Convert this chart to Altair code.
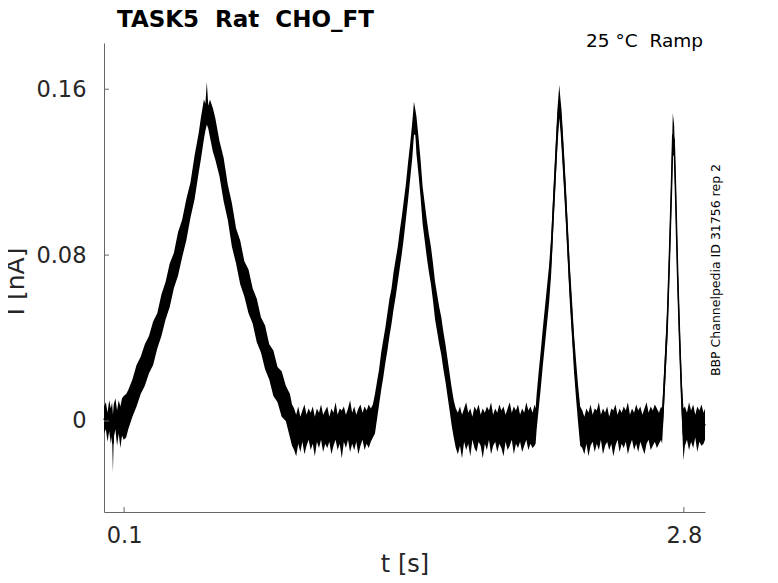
import altair as alt
import pandas as pd

# ---------------- data ----------------
x_ticks = [0.1, 2.8]
y_ticks = [0, 0.08, 0.16]

title_text = "TASK5\u00a0\u00a0Rat\u00a0\u00a0CHO_FT"
cond_text = "25 °C\u00a0\u00a0Ramp"
side_text = "BBP Channelpedia ID 31756 rep 2"

# baseline before first ramp
t_base_a = [0.003, 0.012, 0.020, 0.028, 0.036, 0.042, 0.046, 0.050, 0.058, 0.066,
            0.074, 0.082, 0.090, 0.098]
hi_base_a = [0.007, 0.009, 0.004, 0.010, 0.006, 0.009, 0.003, 0.008, 0.011, 0.005,
             0.010, 0.007, 0.011, 0.012]
lo_base_a = [-0.006, -0.004, -0.010, -0.005, -0.011, -0.007, -0.025, -0.008, -0.004, -0.012,
             -0.006, -0.013, -0.007, -0.009]

# ramp 1 (0.1 -> 0.5 -> 0.9 s)
t_r1_up = [0.11, 0.12, 0.14, 0.16, 0.18, 0.20, 0.22, 0.24, 0.26, 0.28,
           0.30, 0.32, 0.34, 0.36, 0.38, 0.40, 0.42, 0.44, 0.46, 0.47,
           0.485, 0.492, 0.499]
hi_r1_up = [0.013, 0.015, 0.020, 0.027, 0.031, 0.037, 0.041, 0.048, 0.052, 0.061,
            0.067, 0.076, 0.081, 0.091, 0.097, 0.107, 0.115, 0.128, 0.139, 0.146,
            0.155, 0.153, 0.1635]
lo_r1_up = [-0.008, -0.004, 0.002, 0.007, 0.013, 0.017, 0.023, 0.027, 0.035, 0.041,
            0.049, 0.055, 0.064, 0.070, 0.079, 0.087, 0.098, 0.107, 0.120, 0.126,
            0.136, 0.140, 0.143]
t_r1_dn = [0.506, 0.514, 0.528, 0.54, 0.56, 0.58, 0.60, 0.62, 0.64, 0.66,
           0.68, 0.70, 0.72, 0.74, 0.76, 0.78, 0.80, 0.82, 0.84, 0.86,
           0.88, 0.90, 0.91]
hi_r1_dn = [0.152, 0.155, 0.151, 0.146, 0.135, 0.127, 0.114, 0.105, 0.093, 0.087,
            0.077, 0.073, 0.064, 0.059, 0.050, 0.046, 0.037, 0.034, 0.026, 0.024,
            0.017, 0.013, 0.008]
lo_r1_dn = [0.141, 0.137, 0.130, 0.126, 0.118, 0.106, 0.097, 0.084, 0.076, 0.066,
            0.060, 0.052, 0.047, 0.038, 0.033, 0.025, 0.020, 0.012, 0.009, 0.002,
            0.000, -0.008, -0.012]

# baseline between ramp 1 and ramp 2
t_base_b = [0.92, 0.93, 0.94, 0.95, 0.96, 0.97, 0.98, 0.99, 1.00, 1.01,
            1.02, 1.03, 1.04, 1.05, 1.06, 1.07, 1.08, 1.09, 1.10, 1.11,
            1.12, 1.13, 1.14, 1.15, 1.16, 1.17, 1.18, 1.19, 1.20, 1.21,
            1.22, 1.23, 1.24, 1.25, 1.26, 1.27, 1.28, 1.29, 1.30]
hi_base_b = [0.006, 0.003, 0.007, 0.002, 0.005, 0.008, 0.003, 0.006, 0.004, 0.007,
             0.002, 0.006, 0.004, 0.008, 0.003, 0.005, 0.007, 0.002, 0.006, 0.004,
             0.009, 0.003, 0.006, 0.005, 0.007, 0.003, 0.006, 0.010, 0.004, 0.007,
             0.003, 0.006, 0.008, 0.004, 0.007, 0.005, 0.008, 0.006, 0.008]
lo_base_b = [-0.014, -0.017, -0.011, -0.015, -0.010, -0.016, -0.012, -0.009, -0.014, -0.011,
             -0.017, -0.010, -0.013, -0.009, -0.015, -0.011, -0.013, -0.010, -0.016, -0.012,
             -0.009, -0.014, -0.011, -0.018, -0.010, -0.013, -0.009, -0.015, -0.011, -0.014,
             -0.010, -0.016, -0.012, -0.009, -0.014, -0.011, -0.013, -0.010, -0.008]

# ramp 2 (1.3 -> 1.5 -> 1.7 s)
t_r2_up = [1.31, 1.32, 1.33, 1.34, 1.35, 1.36, 1.37, 1.38, 1.39, 1.40,
           1.41, 1.42, 1.43, 1.44, 1.45, 1.46, 1.47, 1.48, 1.49, 1.498]
hi_r2_up = [0.013, 0.019, 0.025, 0.033, 0.039, 0.045, 0.052, 0.059, 0.064, 0.072,
            0.078, 0.084, 0.092, 0.099, 0.107, 0.115, 0.125, 0.134, 0.144, 0.154]
lo_r2_up = [-0.006, 0.001, 0.008, 0.015, 0.021, 0.028, 0.034, 0.041, 0.047, 0.054,
            0.060, 0.067, 0.074, 0.081, 0.089, 0.098, 0.107, 0.117, 0.127, 0.138]
t_r2_dn = [1.505, 1.51, 1.52, 1.53, 1.54, 1.55, 1.56, 1.57, 1.58, 1.59,
           1.60, 1.61, 1.62, 1.63, 1.64, 1.65, 1.66, 1.67, 1.68, 1.69, 1.70]
hi_r2_dn = [0.150, 0.147, 0.137, 0.126, 0.113, 0.105, 0.097, 0.090, 0.084, 0.076,
            0.067, 0.061, 0.055, 0.050, 0.043, 0.037, 0.030, 0.023, 0.016, 0.010, 0.006]
lo_r2_dn = [0.138, 0.129, 0.119, 0.108, 0.095, 0.087, 0.079, 0.072, 0.066, 0.058,
            0.049, 0.043, 0.037, 0.032, 0.025, 0.019, 0.012, 0.005, -0.002, -0.008, -0.013]

# baseline between ramp 2 and ramp 3
t_base_c = [1.71, 1.72, 1.73, 1.74, 1.75, 1.76, 1.77, 1.78, 1.79, 1.80,
            1.81, 1.82, 1.83, 1.84, 1.85, 1.86, 1.87, 1.88, 1.89, 1.90,
            1.91, 1.92, 1.93, 1.94, 1.95, 1.96, 1.97, 1.98, 1.99, 2.00,
            2.01, 2.02, 2.03, 2.04, 2.05, 2.06, 2.07, 2.08]
hi_base_c = [0.004, 0.007, 0.003, 0.006, 0.009, 0.004, 0.006, 0.002, 0.007, 0.005,
             0.008, 0.003, 0.006, 0.004, 0.007, 0.005, 0.009, 0.003, 0.006, 0.004,
             0.008, 0.005, 0.007, 0.003, 0.006, 0.009, 0.004, 0.007, 0.005, 0.008,
             0.003, 0.006, 0.004, 0.009, 0.005, 0.007, 0.004, 0.008]
lo_base_c = [-0.016, -0.012, -0.018, -0.010, -0.014, -0.011, -0.017, -0.009, -0.013, -0.015,
             -0.010, -0.012, -0.018, -0.011, -0.014, -0.009, -0.016, -0.012, -0.010, -0.015,
             -0.011, -0.013, -0.017, -0.010, -0.014, -0.012, -0.009, -0.016, -0.011, -0.013,
             -0.010, -0.015, -0.012, -0.009, -0.014, -0.011, -0.013, -0.012]

# ramp 3 (2.1 -> 2.2 -> 2.3 s)
t_r3_up = [2.085, 2.09, 2.10, 2.11, 2.12, 2.13, 2.14, 2.15, 2.16, 2.17, 2.18, 2.19, 2.199]
hi_r3_up = [0.006, 0.013, 0.024, 0.034, 0.045, 0.055, 0.065, 0.075, 0.089, 0.110, 0.130, 0.150, 0.162]
lo_r3_up = [-0.011, -0.004, 0.006, 0.016, 0.027, 0.037, 0.047, 0.057, 0.071, 0.092, 0.112, 0.132, 0.146]
t_r3_dn = [2.205, 2.21, 2.22, 2.23, 2.24, 2.25, 2.26, 2.27, 2.28, 2.29, 2.30]
hi_r3_dn = [0.155, 0.150, 0.133, 0.115, 0.095, 0.075, 0.059, 0.042, 0.029, 0.017, 0.007]
lo_r3_dn = [0.140, 0.132, 0.115, 0.097, 0.077, 0.057, 0.041, 0.024, 0.011, -0.001, -0.012]

# baseline between ramp 3 and ramp 4
t_base_d = [2.31, 2.32, 2.33, 2.34, 2.35, 2.36, 2.37, 2.38, 2.39, 2.40,
            2.41, 2.42, 2.43, 2.44, 2.45, 2.46, 2.47, 2.48, 2.49, 2.50,
            2.51, 2.52, 2.53, 2.54, 2.55, 2.56, 2.57, 2.58, 2.59, 2.60,
            2.61, 2.62, 2.63, 2.64, 2.65, 2.66, 2.67, 2.68, 2.69]
hi_base_d = [0.005, 0.002, 0.006, 0.004, 0.008, 0.003, 0.006, 0.005, 0.009, 0.003,
             0.006, 0.004, 0.007, 0.002, 0.006, 0.005, 0.008, 0.003, 0.006, 0.004,
             0.007, 0.005, 0.009, 0.003, 0.006, 0.004, 0.008, 0.005, 0.007, 0.003,
             0.006, 0.009, 0.004, 0.007, 0.005, 0.008, 0.006, 0.004, 0.007]
lo_base_d = [-0.013, -0.016, -0.011, -0.017, -0.012, -0.010, -0.015, -0.011, -0.014, -0.009,
             -0.016, -0.012, -0.010, -0.014, -0.011, -0.017, -0.012, -0.009, -0.015, -0.011,
             -0.013, -0.010, -0.016, -0.012, -0.009, -0.014, -0.011, -0.015, -0.010, -0.013,
             -0.016, -0.011, -0.009, -0.014, -0.012, -0.010, -0.013, -0.011, -0.009]

# ramp 4 (2.7 -> 2.75 -> 2.8 s)
t_r4_up = [2.695, 2.70, 2.71, 2.72, 2.73, 2.74, 2.7467]
hi_r4_up = [0.006, 0.015, 0.035, 0.055, 0.086, 0.120, 0.1484]
lo_r4_up = [-0.011, -0.002, 0.018, 0.038, 0.069, 0.103, 0.128]
t_r4_dn = [2.753, 2.76, 2.77, 2.78, 2.79, 2.798]
hi_r4_dn = [0.143, 0.119, 0.079, 0.047, 0.019, 0.006]
lo_r4_dn = [0.128, 0.103, 0.062, 0.030, 0.002, -0.019]

# final baseline
t_base_e = [2.805, 2.815, 2.825, 2.835, 2.845, 2.855, 2.865, 2.875, 2.885, 2.895, 2.902]
hi_base_e = [0.007, 0.004, 0.009, 0.005, 0.008, 0.003, 0.007, 0.005, 0.008, 0.004, 0.006]
lo_base_e = [-0.012, -0.009, -0.014, -0.010, -0.013, -0.008, -0.015, -0.010, -0.012, -0.011, -0.009]

# ---------------- assemble ----------------
t_parts = [t_base_a, t_r1_up, t_r1_dn, t_base_b, t_r2_up, t_r2_dn, t_base_c,
           t_r3_up, t_r3_dn, t_base_d, t_r4_up, t_r4_dn, t_base_e]
hi_parts = [hi_base_a, hi_r1_up, hi_r1_dn, hi_base_b, hi_r2_up, hi_r2_dn, hi_base_c,
            hi_r3_up, hi_r3_dn, hi_base_d, hi_r4_up, hi_r4_dn, hi_base_e]
lo_parts = [lo_base_a, lo_r1_up, lo_r1_dn, lo_base_b, lo_r2_up, lo_r2_dn, lo_base_c,
            lo_r3_up, lo_r3_dn, lo_base_d, lo_r4_up, lo_r4_dn, lo_base_e]

rows = []
for ts, his, los in zip(t_parts, hi_parts, lo_parts):
    n = min(len(ts), len(his), len(los))
    for i in range(n):
        rows.append({"t": ts[i], "hi": his[i], "lo": los[i]})
df = pd.DataFrame(rows).sort_values("t").reset_index(drop=True)
df["mid"] = (df["hi"] + df["lo"]) / 2

W, H = 601, 469
AX = "#666666"
TXT = "#262626"
FONT = "DejaVu Sans"

x_scale = alt.Scale(domain=[0.003, 2.902], nice=False, zero=False)
y_scale = alt.Scale(domain=[-0.0439, 0.1823], nice=False, zero=False)

x_axis = alt.Axis(values=x_ticks, format=".2~f", labelFontSize=22.5, labelColor=TXT,
                  labelFont=FONT, labelPadding=30, labelBaseline="alphabetic",
                  labelFlush=False, ticks=False, tickSize=0, domainColor=AX,
                  domainWidth=1, grid=False, title="t [s]", titleFontSize=24,
                  titleFont=FONT, titleFontWeight="normal", titleColor=TXT,
                  titleX=W / 2, titleY=59, titleBaseline="alphabetic", titleAlign="center")
y_axis = alt.Axis(values=y_ticks, format=".2~f", labelFontSize=22.5, labelColor=TXT,
                  labelFont=FONT, labelPadding=18, labelFlush=False, ticks=False,
                  tickSize=0, domainColor=AX, domainWidth=1, grid=False,
                  title="I [nA]", titleFontSize=25, titleFont=FONT,
                  titleFontWeight="normal", titleColor=TXT, titleAngle=270,
                  titleX=-80.5, titleY=238, titleBaseline="alphabetic", titleAlign="center")

band = alt.Chart(df).mark_area(color="black", opacity=1, strokeWidth=0).encode(
    x=alt.X("t:Q", scale=x_scale, axis=x_axis, title="t [s]"),
    y=alt.Y("lo:Q", scale=y_scale, axis=y_axis, title="I [nA]"),
    y2="hi:Q",
)
center = alt.Chart(df).mark_line(color="black", strokeWidth=1.6).encode(
    x=alt.X("t:Q", scale=x_scale, axis=x_axis, title="t [s]"),
    y=alt.Y("mid:Q", scale=y_scale, axis=y_axis, title="I [nA]"),
)

xt = pd.DataFrame({"tick_t": x_ticks})
yt = pd.DataFrame({"tick_v": y_ticks})
x_tick_rules = alt.Chart(xt).mark_rule(color=AX, strokeWidth=1).encode(
    x=alt.X("tick_t:Q", scale=x_scale, axis=x_axis, title="t [s]"),
    y=alt.value(H), y2=alt.value(H - 5),
)
y_tick_rules = alt.Chart(yt).mark_rule(color=AX, strokeWidth=1).encode(
    y=alt.Y("tick_v:Q", scale=y_scale, axis=y_axis, title="I [nA]"),
    x=alt.value(0), x2=alt.value(5),
)

title_mark = alt.Chart(pd.DataFrame({"label": [title_text]})).mark_text(
    font=FONT, fontSize=23, fontWeight="bold", color="black", align="left",
    baseline="alphabetic").encode(text="label:N", x=alt.value(13), y=alt.value(-16))
cond_mark = alt.Chart(pd.DataFrame({"label": [cond_text]})).mark_text(
    font=FONT, fontSize=18.5, color="black", align="right",
    baseline="alphabetic").encode(text="label:N", x=alt.value(599), y=alt.value(4))
side_mark = alt.Chart(pd.DataFrame({"label": [side_text]})).mark_text(
    font=FONT, fontSize=12.5, color="black", align="center", baseline="middle",
    angle=270).encode(text="label:N", x=alt.value(611.5), y=alt.value(227))

chart = alt.layer(band, center, x_tick_rules, y_tick_rules, title_mark, cond_mark, side_mark).properties(
    width=W, height=H,
    autosize=alt.AutoSizeParams(type="none"),
    padding={"left": 96, "top": 35, "right": 62, "bottom": 63},
).configure(font=FONT, background="white").configure_view(stroke=None)

chart.save("out.html", embed_options={"renderer": "svg", "actions": False})
